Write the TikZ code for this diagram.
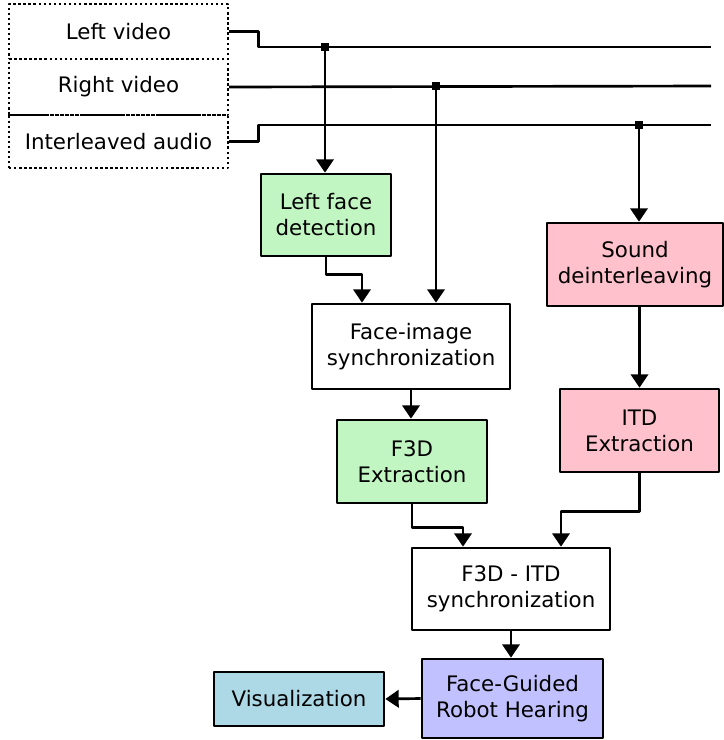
\documentclass[tikz,border=0pt]{standalone}
\usepackage{fontspec}
\setmainfont{DejaVu Sans}
\usetikzlibrary{arrows.meta,calc}
\definecolor{facegreen}{HTML}{C1F5C1}
\definecolor{soundpink}{HTML}{FFC1CB}
\definecolor{robotblue}{HTML}{C1C1FF}
\definecolor{visblue}{HTML}{ADD8E6}
\begin{document}
\begin{tikzpicture}[x=0.75pt,y=-0.75pt,>={Triangle[width=13pt,length=10pt]},line join=round,
	font=\fontsize{16}{19.5}\selectfont,
	box/.style={draw,line width=2pt,align=center,inner sep=0pt},
	inbox/.style={draw,dotted,line width=1.8pt,minimum width=164.25pt,minimum height=41.25pt,inner sep=0pt},
	wire/.style={line width=2pt},
	dot/.style={fill,rectangle,minimum size=6.5pt,inner sep=0pt}]
	\useasboundingbox (0,0) rectangle (724,740);
	% inputs
	\node[inbox] (lv) at (118.5,31.5) {Left video};
	\node[inbox,minimum height=42pt] (rv) at (118.5,87) {Right video};
	\node[inbox,minimum height=39.75pt] (ia) at (118.5,141.5) {Interleaved audio};
	\path 
	(711,47)coordinate(lvend)
	(711,86)coordinate(rvend)
	(711,125)coordinate(iaend)
	;
	\draw[wire] (lv.east) -- ++(29,0) |- (lvend);
	\draw[wire] (rv.east) -- (rvend);
	\draw[wire] (ia.east) -- ++(29,0) |- (iaend);
	\node[dot] (jl) at (325,47) {};
	\node[dot] (jr) at (436,86) {};
	\node[dot] (ja) at (639,125) {};
	% boxes
	\node[box,fill=facegreen,minimum width=97.5pt,minimum height=61.5pt] (lfd) at (326,215) {Left face\\detection};
	\node[box,minimum width=148.5pt,minimum height=63.75pt] (fis) at (411,346.5) {Face-image\\synchronization};
	\node[box,fill=soundpink,minimum width=132pt,minimum height=62.25pt] (sd) at (635,264.5) {Sound\\deinterleaving};
	\node[box,fill=soundpink,minimum width=119.25pt,minimum height=62.25pt] (itd) at (639.5,430.5) {ITD\\Extraction};
	\node[box,fill=facegreen,minimum width=112.5pt,minimum height=62.25pt] (f3d) at (412,461.5) {F3D\\Extraction};
	\node[box,minimum width=148.5pt,minimum height=61.5pt] (fts) at (511,589) {F3D - ITD\\synchronization};
	\node[box,fill=robotblue,minimum width=135.75pt,minimum height=59.25pt] (fgrh) at (512.5,698.5) {Face-Guided\\Robot Hearing};
	\node[box,fill=visblue,minimum width=127.5pt,minimum height=40.5pt] (vis) at (299,699) {Visualization};
	% arrows
	\draw[wire,->] (jl.center) -- (jl |- lfd.north);
	\draw[wire,->] (lfd.south) -- ++(0,17) -| ($(fis.north)+(-49,0)$);
	\draw[wire,->] (jr.center) -- (jr |- fis.north);
	\draw[wire,->] (ja.center) -- (ja |- sd.north);
	\draw[wire,->] (itd.north |- sd.south) -- (itd.north);
	\draw[wire,->] (fis.south) -- (fis.south |- f3d.north);
	\draw[wire,->] (f3d.south) -- ++(0,23) -| ($(fts.north)+(-48,0)$);
	\draw[wire,->] (itd.south) -- ++(0,38) -| ($(fts.north)+(50,0)$);
	\draw[wire,->] (fts.south) -- (fts.south |- fgrh.north);
	\draw[wire,->] (fgrh.west) -- (vis.east);
\end{tikzpicture}
\end{document}
